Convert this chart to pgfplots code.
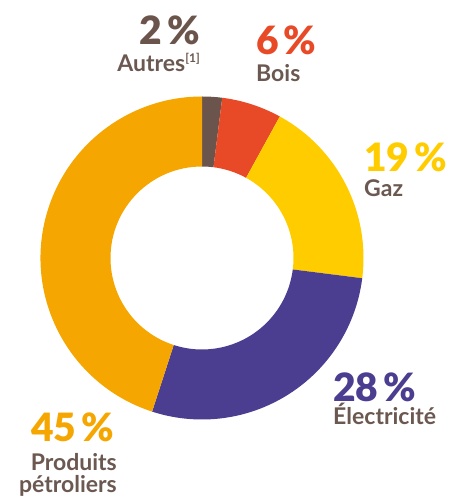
\documentclass[border=0pt]{standalone}
\usepackage{pgfplots}
\usepackage{pgfplotstable}
\pgfplotsset{compat=1.18}
\usepackage{fontspec}
\setmainfont{Lato}
\newfontfamily\heavy{Lato Black}

\definecolor{txt}{HTML}{6B5850}
\definecolor{c0}{HTML}{6B544B}
\definecolor{c1}{HTML}{E84A27}
\definecolor{c2}{HTML}{FFCC00}
\definecolor{c3}{HTML}{4B3D8F}
\definecolor{c4}{HTML}{F5A600}

% parts of the total, clockwise from the top
\pgfplotstableread{
name value
Autres 2
Bois 6
Gaz 19
Electricite 28
Produits 45
}\sharetable

% boundary angles b0..b5 from the cumulated shares
\gdef\cum{0}
\expandafter\xdef\csname b0\endcsname{90}
\foreach \i in {0,...,4}{%
  \pgfplotstablegetelem{\i}{value}\of\sharetable
  \pgfmathsetmacro\newcum{\cum+\pgfplotsretval}
  \xdef\cum{\newcum}
  \pgfmathtruncatemacro\j{\i+1}
  \pgfmathsetmacro\ang{90-3.6*\cum}
  \expandafter\xdef\csname b\j\endcsname{\ang}
}

% centre and radii of the ring
\def\cx{202}\def\cy{242}\def\R{161.5}\def\r{91.5}
\newcommand\slice[3]{%
  \fill[#3] ({\cx+\R*cos(#1)},{\cy+\R*sin(#1)})
    arc[start angle=#1, end angle=#2, radius=\R]
    -- ({\cx+\r*cos(#2)},{\cy+\r*sin(#2)})
    arc[start angle=#2, end angle=#1, radius=\r] -- cycle;}

\begin{document}
\begin{tikzpicture}
\begin{axis}[
  width=449pt, height=500pt, scale only axis,
  xmin=0, xmax=449, ymin=0, ymax=500,
  hide axis, clip=false,
]
\addplot[draw=none] coordinates {(0,0) (449,500)};

\slice{\csname b0\endcsname}{\csname b1\endcsname}{c0}
\slice{\csname b1\endcsname}{\csname b2\endcsname}{c1}
\slice{\csname b2\endcsname}{\csname b3\endcsname}{c2}
\slice{\csname b3\endcsname}{\csname b4\endcsname}{c3}
\slice{\csname b4\endcsname}{\csname b5\endcsname}{c4}

\tikzset{pc/.style={inner sep=0pt, font=\fontsize{39}{39}\selectfont\heavy},
         lb/.style={inner sep=0pt, text=txt, font=\fontsize{23}{23}\selectfont\bfseries}}

\node[pc, text=c0, anchor=base east] at (200,455) {2\kern0.12em\%};
\node[lb, anchor=base east] at (200,428) {Autres\raisebox{0.42em}{\fontsize{12}{12}\selectfont[1]}};

\node[pc, text=c1, anchor=base west] at (256,445) {6\kern0.12em\%};
\node[lb, anchor=base west] at (256,418) {Bois};

\node[pc, text=c2, anchor=base west] at (364,328) {19\kern0.12em\%};
\node[lb, anchor=base west] at (364,303) {Gaz};

\node[pc, text=c3, anchor=base west] at (333,98) {28\kern0.12em\%};
\node[lb, anchor=base west] at (333,75) {Électricité};

\node[pc, text=c4, anchor=base east] at (114,58) {45\kern0.12em\%};
\node[lb, anchor=base east] at (117,29) {Produits};
\node[lb, anchor=base east] at (117,7) {pétroliers};
\end{axis}
\end{tikzpicture}
\end{document}
